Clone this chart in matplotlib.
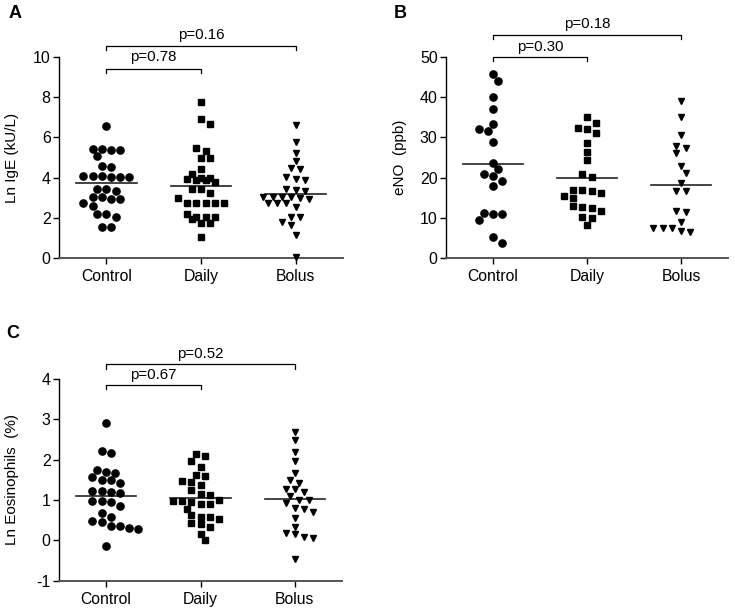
import matplotlib
matplotlib.use("Agg")
import matplotlib.pyplot as plt
import numpy as np

plt.rcParams['font.family'] = ['Liberation Sans', 'DejaVu Sans']

groups = ["Control", "Daily", "Bolus"]

# Panel A: Ln IgE (kU/L)
igE_control = [6.56, 5.40, 5.40, 5.35, 5.35, 5.07, 4.60, 4.55, 4.10, 4.10, 4.05, 4.05, 4.05, 4.10,
               3.42, 3.36, 3.42, 3.06, 2.95, 2.95, 3.06, 2.60, 2.76, 2.20, 2.03, 2.20, 1.57, 1.57]
igE_daily = [7.77, 6.66, 6.91, 5.45, 5.32, 4.96, 4.96, 4.43, 4.18, 3.97, 3.87, 3.80, 3.87, 3.92, 4.00,
             3.42, 3.26, 3.42, 2.76, 2.76, 2.76, 2.76, 2.76, 2.98, 2.03, 2.03, 1.77, 1.77, 1.93, 2.03,
             2.18, 1.06]
igE_bolus = [6.61, 5.78, 5.20, 4.82, 4.49, 4.41, 4.02, 3.91, 3.88, 3.39, 3.35, 3.42, 3.05, 3.00,
             3.05, 3.05, 2.95, 3.05, 2.72, 2.72, 2.72, 2.56, 2.06, 2.06, 1.81, 1.65, 1.16, 0.08]
igE_means = [3.72, 3.60, 3.19]

# Panel B: eNO (ppb)
eno_control = [45.7, 44.0, 40.1, 37.0, 33.3, 31.6, 32.0, 28.8, 23.7, 22.1, 20.8, 20.4, 19.2, 17.9,
               11.2, 10.9, 10.9, 9.5, 5.4, 3.9]
eno_daily = [35.0, 33.6, 32.2, 32.0, 31.0, 28.5, 26.4, 24.5, 20.9, 20.2, 16.9, 16.1, 14.9, 15.5,
             16.8, 16.9, 13.0, 12.4, 11.8, 12.6, 10.3, 9.9, 8.3]
eno_bolus = [39.1, 35.1, 30.6, 27.3, 27.9, 26.0, 23.0, 21.2, 18.6, 16.8, 16.8, 11.6, 11.7, 9.1,
             7.6, 7.6, 6.4, 6.8, 7.6]
eno_means = [23.4, 20.0, 18.3]

# Panel C: Ln Eosinophils (%)
eos_control = [2.90, 2.22, 2.16, 1.74, 1.66, 1.69, 1.58, 1.50, 1.41, 1.50, 1.23, 1.18, 1.21, 1.23,
               0.98, 0.86, 0.98, 0.96, 0.57, 0.69, 0.49, 0.36, 0.28, 0.30, 0.36, 0.46, -0.14]
eos_daily = [2.13, 2.09, 1.97, 1.83, 1.62, 1.60, 1.48, 1.45, 1.36, 1.26, 1.15, 1.12, 1.00, 0.97,
             0.97, 0.89, 0.89, 0.95, 0.78, 0.63, 0.54, 0.59, 0.59, 0.40, 0.42, 0.33, 0.16, 0.01]
eos_bolus = [2.69, 2.49, 2.18, 1.97, 1.66, 1.50, 1.43, 1.27, 1.27, 1.21, 1.10, 1.00, 1.00, 0.93,
             0.78, 0.81, 0.71, 0.56, 0.34, 0.19, 0.09, 0.05, 0.15, -0.46]
eos_means = [1.11, 1.04, 1.02]

pvals_A = ["p=0.78", "p=0.16"]
pvals_B = ["p=0.30", "p=0.18"]
pvals_C = ["p=0.67", "p=0.52"]

markers = ["o", "s", "v"]
msizes = [5.2, 5.0, 5.0]

W, H = 734, 609
fig = plt.figure(figsize=(W / 100, H / 100), dpi=100)


def add_axes(left_px, right_px, top_px, bottom_px):
    return fig.add_axes([left_px / W, 1 - bottom_px / H, (right_px - left_px) / W, (bottom_px - top_px) / H])


def swarm_offsets(ax, values, step_px, row_px, coll_px):
    # GraphPad-like: group points into rows, centre each row, shift rows to avoid overlap
    px_per_x = ax.transData.transform((1, 0))[0] - ax.transData.transform((0, 0))[0]
    vals = np.asarray(values, dtype=float)
    ys = ax.transData.transform(np.column_stack([np.zeros(len(vals)), vals]))[:, 1]
    order = np.argsort(-vals)
    offs = np.zeros(len(vals))
    rows = []
    cur = []
    for i in order:
        if cur and ys[cur[0]] - ys[i] > row_px:
            rows.append(cur)
            cur = []
        cur.append(i)
    if cur:
        rows.append(cur)
    placed = []
    shifts = [0, 0.5, -0.5, 1.0, -1.0, 1.5, -1.5, 2.0, -2.0]
    for r in rows:
        n = len(r)
        base = [(k - (n - 1) / 2) * step_px for k in range(n)]
        best = base
        for s in shifts:
            cand = [b + s * step_px for b in base]
            ok = True
            for c, j in zip(cand, r):
                for (px, py) in placed:
                    if (px - c) ** 2 + (py - ys[j]) ** 2 < coll_px ** 2:
                        ok = False
                        break
                if not ok:
                    break
            if ok:
                best = cand
                break
        for c, j in zip(best, r):
            placed.append((c, ys[j]))
            offs[j] = c / px_per_x
    return offs


def panel(ax, data, means, ylim, yticks, ylabel, pvals, bracket_y, text_y, letter, letter_xy):
    ax.set_xlim(-0.5, 2.5)
    ax.set_ylim(*ylim)
    for s in ["top", "right"]:
        ax.spines[s].set_visible(False)
    ax.spines["left"].set_linewidth(1.0)
    ax.spines["bottom"].set_color("#555555")
    ax.spines["bottom"].set_linewidth(1.4)
    ax.set_yticks(yticks)
    ax.set_yticklabels([str(t) for t in yticks], fontsize=11.5)
    ax.set_xticks(range(3))
    ax.set_xticklabels(groups, fontsize=11.3)
    ax.tick_params(axis="y", length=4, width=1.0, pad=2)
    ax.tick_params(axis="x", length=4, width=1.0, pad=4)
    ax.set_ylabel(ylabel, fontsize=11)
    ax.yaxis.set_label_coords(-0.14, 0.5)
    fig.canvas.draw()
    for gi, vals in enumerate(data):
        offs = swarm_offsets(ax, vals, 9.2, 5.0, 7.6)
        ax.plot(gi + offs, vals, linestyle="none", marker=markers[gi], markersize=msizes[gi],
                color="black", clip_on=False, zorder=3)
        ax.plot([gi - 0.32, gi + 0.32], [means[gi], means[gi]], color="#222222", lw=1.2, zorder=2)
    span = ylim[1] - ylim[0]
    tick = span * 0.021
    for (x2, by, ty, txt) in [(1, bracket_y[0], text_y[0], pvals[0]), (2, bracket_y[1], text_y[1], pvals[1])]:
        ax.plot([0, 0, x2, x2], [by - tick, by, by, by - tick], color="black", lw=0.9, clip_on=False)
        ax.text(x2 / 2, ty, txt, ha="center", va="center", fontsize=10.8)
    fig.text(letter_xy[0] / W, 1 - letter_xy[1] / H, letter, fontsize=13, fontweight="bold",
             ha="center", va="center")


axA = add_axes(59, 343, 56.7, 258.3)
panel(axA, [igE_control, igE_daily, igE_bolus], igE_means, (0, 10), [0, 2, 4, 6, 8, 10],
      "Ln IgE (kU/L)", pvals_A, (9.38, 10.54), (9.98, 11.07), "A", (15, 13))

axB = add_axes(446, 728, 56.7, 258.3)
panel(axB, [eno_control, eno_daily, eno_bolus], eno_means, (0, 50), [0, 10, 20, 30, 40, 50],
      "eNO  (ppb)", pvals_B, (50.0, 55.5), (52.5, 58.1), "B", (400, 13))

axC = add_axes(59, 342, 379, 580.7)
panel(axC, [eos_control, eos_daily, eos_bolus], eos_means, (-1, 4), [-1, 0, 1, 2, 3, 4],
      "Ln Eosinophils  (%)", pvals_C, (3.85, 4.36), (4.10, 4.61), "C", (13, 333))

fig.savefig("out.png", dpi=100)
